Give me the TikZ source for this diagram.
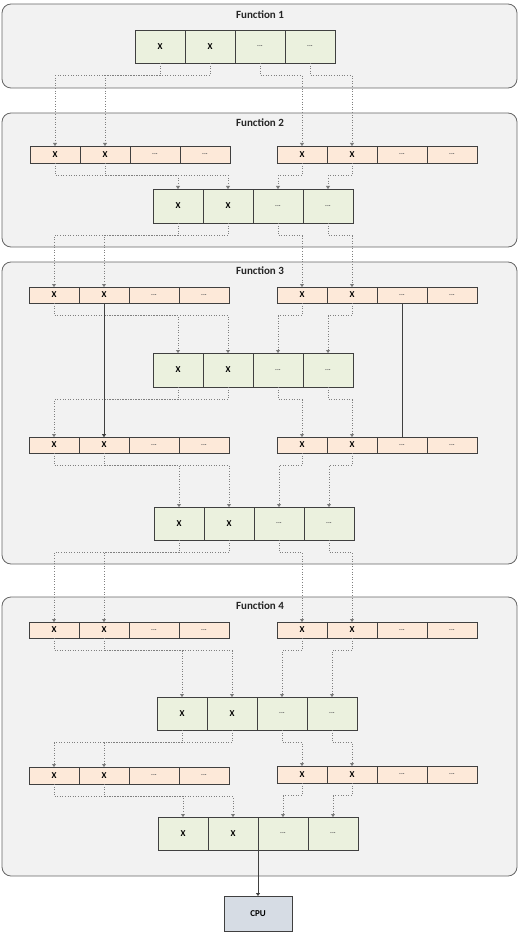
\documentclass[tikz,border=0pt]{standalone}
\usepackage{fontspec}
\setmainfont{Carlito}
\usetikzlibrary{positioning,arrows.meta}

\definecolor{panelgray}{HTML}{F2F2F2}
\definecolor{cellgreen}{HTML}{EBF1DE}
\definecolor{cellorange}{HTML}{FDE9D9}
\definecolor{cpublue}{HTML}{D6DCE4}
\definecolor{edgegray}{HTML}{404040}

\tikzset{
    panel/.style={draw=edgegray!80, fill=panelgray, line width=0.8pt, rounded corners=9pt},
    title/.style={font=\fontsize{11}{13}\selectfont\bfseries, text=black!85},
    cell/.style={draw=edgegray, line width=0.7pt, inner sep=0pt, outer sep=0pt,
        minimum width=50pt, font=\fontsize{9}{11}\selectfont\bfseries},
    gcell/.style={cell, fill=cellgreen},
    ocell/.style={cell, fill=cellorange},
    link/.style={draw=gray, dotted, line width=0.6pt, -{Triangle[width=4pt,length=3pt,fill=black!80]}},
    bus/.style={draw=edgegray, line width=0.8pt, -{Triangle[width=4pt,length=3pt,fill=black!80]}},
    cpubox/.style={draw=edgegray, line width=0.7pt, fill=cpublue, minimum width=68pt,
        minimum height=35pt, anchor=north, font=\fontsize{9}{11}\selectfont\bfseries},
}

% one row of four cells: name, x, y, height, style
\newcommand{\cellrow}[5]{%
    \node[#5, minimum height=#4, anchor=north west] (#1-1) at (#2,#3) {X};
    \node[#5, minimum height=#4, right=0pt of #1-1] (#1-2) {X};
    \node[#5, minimum height=#4, right=0pt of #1-2] (#1-3) {\dots@};
    \node[#5, minimum height=#4, right=0pt of #1-3] (#1-4) {\dots@};
}
\def\dots@{{\fontsize{7}{8}\selectfont\color{black!65}...}}
% green row to two orange rows and back
\newcommand{\fanout}[3]{%
    \draw[link] (#1-1.south) -- ++(0,12.5) -| (#2-1.north);
    \draw[link] (#1-2.south) -- ++(0,12.5) -| (#2-2.north);
    \draw[link] (#1-3.south) -- ++(0,12.5) -| (#3-1.north);
    \draw[link] (#1-4.south) -- ++(0,12.5) -| (#3-2.north);
}
\newcommand{\fanin}[3]{%
    \draw[link] (#1-1.south) -- ++(0,12.5) -| (#3-1.north);
    \draw[link] (#1-2.south) -- ++(0,12.5) -| (#3-2.north);
    \draw[link] (#2-1.south) -- ++(0,12.5) -| (#3-3.north);
    \draw[link] (#2-2.south) -- ++(0,12.5) -| (#3-4.north);
}

\begin{document}
\makeatletter
\begin{tikzpicture}[x=1pt, y=-1pt]
    \useasboundingbox (0,0) rectangle (519,933);
    % panels
    \draw[panel] (2,4) rectangle (517,88);
    \draw[panel] (2,113) rectangle (517,247);
    \draw[panel] (2,262) rectangle (517,564);
    \draw[panel] (2,597) rectangle (517,876);
    \node[title] (t1) at (260,15) {Function 1};
    \node[title] (t2) at (260,123) {Function 2};
    \node[title] (t3) at (260,271) {Function 3};
    \node[title] (t4) at (260,606) {Function 4};

    % function 1
    \cellrow{g1}{135}{30}{33pt}{gcell}
    % function 2
    \cellrow{o2l}{30}{146}{17pt}{ocell}
    \cellrow{o2r}{277}{146}{17pt}{ocell}
    \cellrow{g2}{153}{189}{34pt}{gcell}
    % function 3
    \cellrow{o3l}{29}{287}{16pt}{ocell}
    \cellrow{o3r}{277}{287}{16pt}{ocell}
    \cellrow{g3}{153}{353}{34pt}{gcell}
    \cellrow{o4l}{29}{437}{16pt}{ocell}
    \cellrow{o4r}{277}{437}{16pt}{ocell}
    \cellrow{g4}{154}{507}{33pt}{gcell}
    % function 4
    \cellrow{o5l}{29}{622}{16pt}{ocell}
    \cellrow{o5r}{277}{622}{16pt}{ocell}
    \cellrow{g5}{157}{697}{33pt}{gcell}
    \cellrow{o6l}{29}{767}{17pt}{ocell}
    \cellrow{o6r}{277}{766}{17pt}{ocell}
    \cellrow{g6}{158}{817}{33pt}{gcell}

    \node[cpubox, below=46pt of g6-2.south east] (cpu) {CPU};

    % dotted data paths
    \fanout{g1}{o2l}{o2r}
    \fanin{o2l}{o2r}{g2}
    \fanout{g2}{o3l}{o3r}
    \fanin{o3l}{o3r}{g3}
    \fanout{g3}{o4l}{o4r}
    \fanin{o4l}{o4r}{g4}
    \fanout{g4}{o5l}{o5r}
    \fanin{o5l}{o5r}{g5}
    \fanout{g5}{o6l}{o6r}
    \fanin{o6l}{o6r}{g6}

    % solid paths
    \draw[bus] (o3l-2.south) -- (o4l-2.north);
    \draw[bus, -] (o3r-3.south) -- (o4r-3.north);
    \draw[bus] ([yshift=3pt]g6-2.south east) -- (cpu.north);
\end{tikzpicture}
\makeatother
\end{document}
